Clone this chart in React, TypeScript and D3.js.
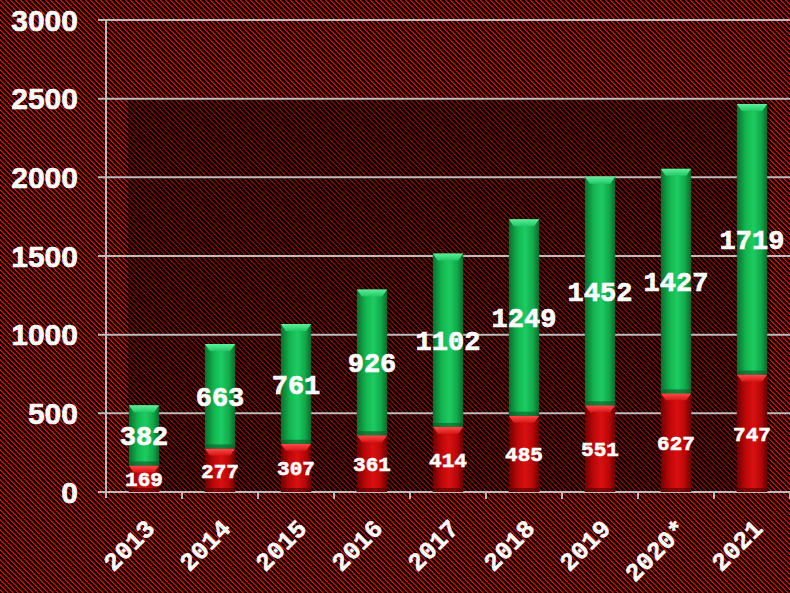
import React from "react";
import * as d3 from "d3";

const years = ["2013", "2014", "2015", "2016", "2017", "2018", "2019", "2020*", "2021"];
const redValues = [169, 277, 307, 361, 414, 485, 551, 627, 747];
const greenValues = [382, 663, 761, 926, 1102, 1249, 1452, 1427, 1719];
const yTicks = [0, 500, 1000, 1500, 2000, 2500, 3000];

const W = 790;
const H = 593;
const left = 106;
const right = 790;
const top = 20;
const bottom = 492;

const slab = "'Liberation Mono', 'DejaVu Sans Mono', monospace";

export default function App() {
  const x = d3
    .scaleBand<string>()
    .domain(years)
    .range([left, right])
    .paddingInner(0.6)
    .paddingOuter(0.3);
  const y = d3.scaleLinear().domain([0, 3000]).range([bottom, top]);
  const bw = x.bandwidth();
  const step = x.step();

  // diagonal stripe tile, pixel stepped like the source image
  const tile = 5;
  const stripeCells = d3.range(tile);

  const segment = (x0: number, y0: number, y1: number, kind: "red" | "green") => {
    const h = y1 - y0;
    const bev = Math.min(7, h / 3);
    return (
      <g>
        <rect x={x0} y={y0} width={bw} height={h} fill={`url(#${kind}Body)`} />
        <path
          d={`M${x0},${y0} L${x0 + bw},${y0} L${x0 + bw - 5},${y0 + bev} L${x0 + 5},${y0 + bev} Z`}
          fill={`url(#${kind}Top)`}
        />
        <rect x={x0} y={y1 - 4} width={bw} height={4} fill={kind === "red" ? "#4a0000" : "#0a5a28"} opacity={0.6} />
      </g>
    );
  };

  return (
    <svg width={W} height={H} style={{ position: "absolute", left: 0, top: 0 }} fontWeight="bold">
      <defs>
        <pattern id="stripes" width={tile} height={tile} patternUnits="userSpaceOnUse">
          <rect width={tile} height={tile} fill="#000" />
          {stripeCells.map((j) => (
            <g key={j} shapeRendering="crispEdges">
              <rect x={j} y={j} width={1} height={1} fill="#ff0000" />
              <rect x={(j + 1) % tile} y={j} width={1} height={1} fill="#a00000" />
            </g>
          ))}
        </pattern>
        <linearGradient id="greenBody" x1="0" x2="1" y1="0" y2="0">
          <stop offset="0" stopColor="#07702c" />
          <stop offset="0.3" stopColor="#13b650" />
          <stop offset="0.55" stopColor="#1ccc62" />
          <stop offset="0.8" stopColor="#12a84a" />
          <stop offset="1" stopColor="#066a2a" />
        </linearGradient>
        <linearGradient id="greenTop" x1="0" x2="0" y1="0" y2="1">
          <stop offset="0" stopColor="#5cf09a" />
          <stop offset="1" stopColor="#22c866" />
        </linearGradient>
        <linearGradient id="redBody" x1="0" x2="1" y1="0" y2="0">
          <stop offset="0" stopColor="#6e0000" />
          <stop offset="0.3" stopColor="#c00808" />
          <stop offset="0.55" stopColor="#d81010" />
          <stop offset="0.8" stopColor="#b80606" />
          <stop offset="1" stopColor="#680000" />
        </linearGradient>
        <linearGradient id="redTop" x1="0" x2="0" y1="0" y2="1">
          <stop offset="0" stopColor="#ff4a4a" />
          <stop offset="1" stopColor="#d81616" />
        </linearGradient>
      </defs>

      <rect width={W} height={H} fill="url(#stripes)" />
      <rect x={128} y={y(2500)} width={770 - 128} height={bottom - y(2500)} fill="#000" opacity={0.35} />

      {yTicks.map((t) => (
        <g key={t}>
          <line x1={left - 8} x2={right} y1={y(t)} y2={y(t)} stroke="#bdbdbd" strokeWidth={2} />
          <text
            x={78}
            y={y(t)}
            dy="0.36em"
            textAnchor="end"
            fill="#fff"
            stroke="#fff"
            strokeWidth={0.6}
            fontFamily="'Liberation Sans', Arial, sans-serif"
            fontSize={30}
          >
            {t}
          </text>
        </g>
      ))}
      <line x1={left} x2={left} y1={top} y2={bottom + 6} stroke="#bdbdbd" strokeWidth={2} />
      {years.map((yr, i) => (
        <line
          key={yr}
          x1={left + (i + 1) * step}
          x2={left + (i + 1) * step}
          y1={bottom}
          y2={bottom + 7}
          stroke="#bdbdbd"
          strokeWidth={2}
        />
      ))}

      {years.map((yr, i) => {
        const x0 = x(yr)!;
        const r = redValues[i];
        const g = greenValues[i];
        return (
          <g key={yr}>
            {segment(x0, y(r), y(0), "red")}
            {segment(x0, y(r + g), y(r), "green")}
          </g>
        );
      })}

      {years.map((yr, i) => {
        const cx = x(yr)! + bw / 2;
        const r = redValues[i];
        const g = greenValues[i];
        return (
          <g key={yr} fill="#fff" stroke="#fff" fontFamily={slab} textAnchor="middle">
            <text x={cx} y={(y(0) + y(r)) / 2} dy="0.36em" fontSize={21} strokeWidth={0.6}>
              {r}
            </text>
            <text x={cx} y={(y(r) + y(r + g)) / 2} dy="0.36em" fontSize={27} strokeWidth={0.7}>
              {g}
            </text>
            <text
              transform={`translate(${cx + 12},${bottom + 38}) rotate(-45)`}
              textAnchor="end"
              fontSize={25}
              strokeWidth={0.5}
            >
              {yr}
            </text>
          </g>
        );
      })}
    </svg>
  );
}
